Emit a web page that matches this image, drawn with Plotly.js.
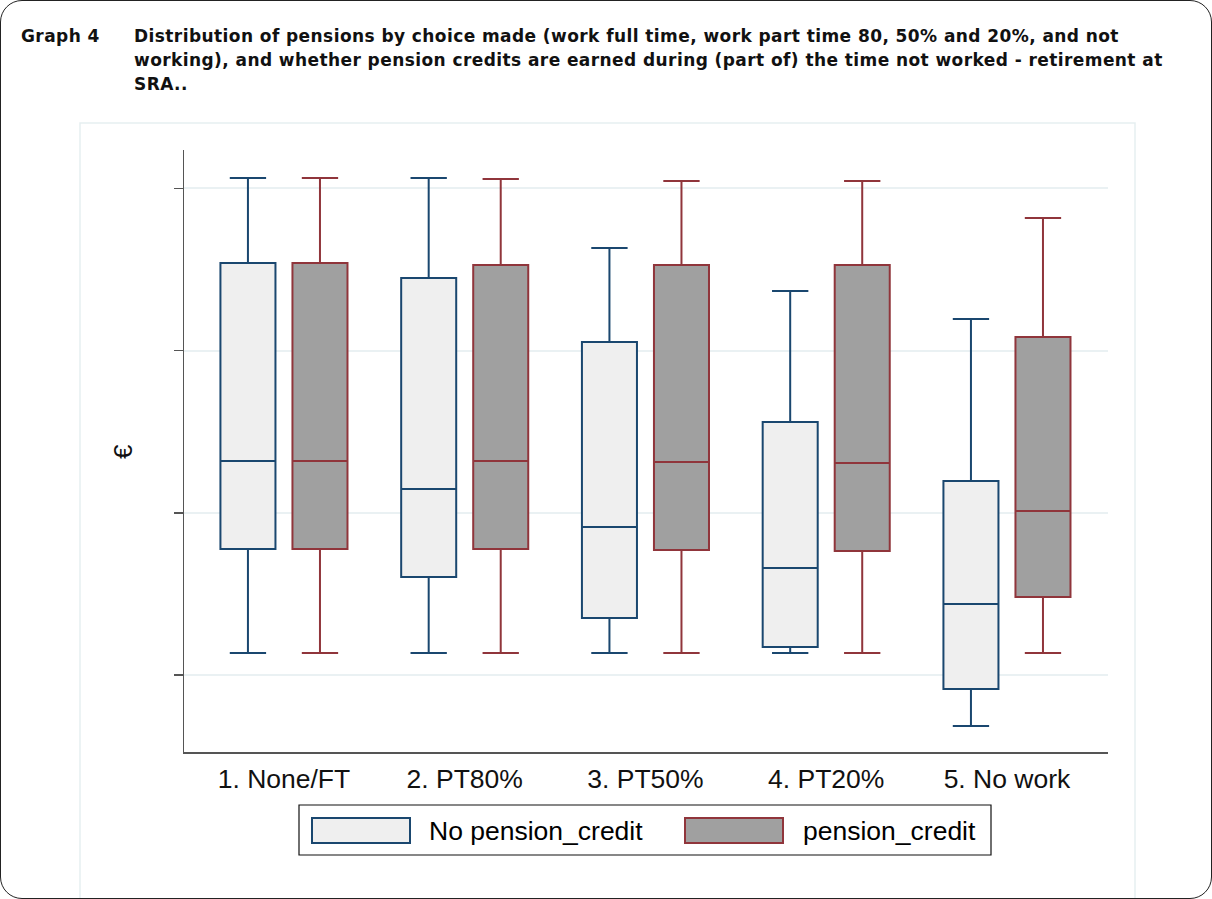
<!DOCTYPE html>
<html>
<head>
<meta charset="utf-8">
<script src="https://cdn.plot.ly/plotly-3.0.1.min.js"></script>
<style>
  html, body { margin:0; padding:0; background:#fff; }
  #wrap { position:relative; width:1212px; height:899px; }
  #chart { position:absolute; left:0; top:0; width:1212px; height:899px; }
  #frame { position:absolute; left:0; top:0; width:1210px; height:897px; border:1px solid #222; border-radius:22px; pointer-events:none; }
</style>
</head>
<body>
<div id="wrap"><div id="chart"></div><div id="frame"></div></div>
<script>
// Categories and series (values in €; axis has no labels)
const categories = ["1. None/FT", "2. PT80%", "3. PT50%", "4. PT20%", "5. No work"];
const seriesNames = ["No pension_credit", "pension_credit"];

const noCreditLower  = [1136, 1136, 1136, 1136, 686];
const noCreditQ1     = [1777, 1604, 1351, 1173, 914];
const noCreditMedian = [2319, 2147, 1912, 1660, 1438];
const noCreditQ3     = [3540, 3448, 3053, 2560, 2196];
const noCreditUpper  = [4064, 4064, 3633, 3367, 3195];

const creditLower  = [1136, 1136, 1136, 1136, 1136];
const creditQ1     = [1777, 1777, 1771, 1764, 1481];
const creditMedian = [2319, 2319, 2313, 2307, 2011];
const creditQ3     = [3540, 3528, 3528, 3528, 3084];
const creditUpper  = [4064, 4058, 4046, 4046, 3818];

const yTicks = [1000, 2000, 3000, 4000];

const blue = "#1a476f", red = "#90353b";
const blueFill = "#efefef", redFill = "#a0a0a0";

const traces = [
  {
    type: "box", name: seriesNames[0], x: categories,
    q1: noCreditQ1, median: noCreditMedian, q3: noCreditQ3,
    lowerfence: noCreditLower, upperfence: noCreditUpper,
    boxpoints: false, whiskerwidth: 0.66,
    line: { color: blue, width: 2 }, fillcolor: blueFill,
    showlegend: false, hoverinfo: "skip"
  },
  {
    type: "box", name: seriesNames[1], x: categories,
    q1: creditQ1, median: creditMedian, q3: creditQ3,
    lowerfence: creditLower, upperfence: creditUpper,
    boxpoints: false, whiskerwidth: 0.66,
    line: { color: red, width: 2 }, fillcolor: redFill,
    showlegend: false, hoverinfo: "skip"
  }
];

// paper-coordinate helpers (plot area: x 184..1108, y 150..752 px)
const L = 184, R = 1108, T = 150, B = 752;
const px = v => (v - L) / (R - L);
const py = v => (B - v) / (B - T);

const titleFont = { family: "DejaVu Sans, sans-serif", size: 17, color: "#111" };
const titleLines = [
  "Distribution of pensions by choice made (work full time, work part time 80, 50% and 20%, and not",
  "working), and whether pension credits are earned during (part of) the time not worked - retirement at",
  "SRA.."
];
const spaced = t => '<span style="letter-spacing:0.42px"><b>' + t + '</b></span>';

const annotations = [
  { text: spaced("Graph 4"), xref: "paper", yref: "paper", x: px(19), y: py(36), xanchor: "left", yanchor: "middle", showarrow: false, font: titleFont },
  ...titleLines.map((t, i) => ({ text: spaced(t), xref: "paper", yref: "paper", x: px(132), y: py(36 + 24 * i), xanchor: "left", yanchor: "middle", showarrow: false, font: titleFont })),
  { text: "€", xref: "paper", yref: "paper", x: px(123), y: py(452), xanchor: "center", yanchor: "middle", textangle: -90, showarrow: false, font: { family: "Liberation Sans, Arial, sans-serif", size: 26, color: "#111" } },
  { text: seriesNames[0], xref: "paper", yref: "paper", x: px(427), y: py(831), xanchor: "left", yanchor: "middle", showarrow: false, font: { family: "Liberation Sans, Arial, sans-serif", size: 26.5, color: "#000" } },
  { text: seriesNames[1], xref: "paper", yref: "paper", x: px(801), y: py(831), xanchor: "left", yanchor: "middle", showarrow: false, font: { family: "Liberation Sans, Arial, sans-serif", size: 26.5, color: "#000" } }
];

const shapes = [
  // inner graph region border
  { type: "rect", xref: "paper", yref: "paper", x0: px(80), x1: px(1135), y0: py(905), y1: py(123), line: { color: "#e6eff1", width: 1.5 }, fillcolor: "rgba(0,0,0,0)", layer: "below" },
  // legend box
  { type: "rect", xref: "paper", yref: "paper", x0: px(299), x1: px(991), y0: py(855), y1: py(805), line: { color: "#111", width: 1.2 }, fillcolor: "#fff" },
  { type: "rect", xref: "paper", yref: "paper", x0: px(312), x1: px(410), y0: py(843), y1: py(818), line: { color: blue, width: 2 }, fillcolor: blueFill },
  { type: "rect", xref: "paper", yref: "paper", x0: px(685), x1: px(783), y0: py(843), y1: py(818), line: { color: red, width: 2 }, fillcolor: redFill }
];

const layout = {
  width: 1212, height: 899,
  margin: { l: L, r: 1212 - R, t: T, b: 899 - B, pad: 0 },
  paper_bgcolor: "rgba(0,0,0,0)", plot_bgcolor: "#fff",
  boxmode: "group", boxgap: 0.203, boxgroupgap: 0.236,
  showlegend: false,
  xaxis: {
    type: "category", range: [-0.553, 4.559],
    showline: true, linecolor: "#555", linewidth: 1.5,
    ticks: "", showgrid: false, zeroline: false,
    tickfont: { family: "Liberation Sans, Arial, sans-serif", size: 26.5, color: "#111" },
    ticklabelstandoff: 3
  },
  yaxis: {
    range: [525, 4237], tickvals: yTicks, showticklabels: false,
    ticks: "outside", ticklen: 9, tickwidth: 1.5, tickcolor: "#555",
    showline: true, linecolor: "#555", linewidth: 1.5,
    showgrid: true, gridcolor: "#eaf1f3", gridwidth: 2, zeroline: false
  },
  annotations: annotations,
  shapes: shapes
};

Plotly.newPlot("chart", traces, layout, { staticPlot: true, displayModeBar: false });
</script>
</body>
</html>
